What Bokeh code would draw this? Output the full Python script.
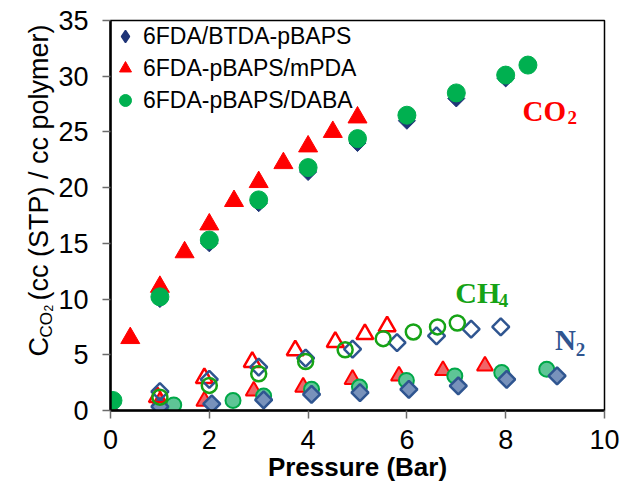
import math
from bokeh.plotting import figure
from bokeh.layouts import row
from bokeh.models import Range1d, Label, Legend, LegendItem, FixedTicker
from bokeh.core.properties import value
from bokeh.embed import file_html
from bokeh.resources import INLINE

# ---------------- data ----------------
x_ticks = [0, 2, 4, 6, 8, 10]
y_ticks = [0, 5, 10, 15, 20, 25, 30, 35]

series_names = ["6FDA/BTDA-pBAPS", "6FDA-pBAPS/mPDA", "6FDA-pBAPS/DABA"]

# CO2 (filled markers)
btda_co2_p = [0.0, 1.0, 2.0, 3.0, 4.0, 5.0, 6.0, 7.0, 8.0]
btda_co2_c = [0.0, 10.0, 15.0, 18.6, 21.4, 24.0, 26.0, 28.0, 29.8]
mpda_co2_p = [0.0, 0.4, 1.0, 1.5, 2.0, 2.5, 3.0, 3.5, 4.0, 4.5, 5.0]
mpda_co2_c = [0.0, 6.5, 11.1, 14.2, 16.7, 18.8, 20.5, 22.2, 23.7, 25.0, 26.3]
daba_co2_p = [0.05, 1.0, 2.0, 3.0, 4.0, 5.0, 6.0, 7.0, 8.0, 8.45]
daba_co2_c = [0.9, 10.2, 15.3, 18.9, 21.8, 24.4, 26.5, 28.5, 30.1, 31.0]

# CH4 (open markers)
btda_ch4_p = [1.0, 2.0, 3.0, 3.95, 4.9, 5.8, 6.6, 7.3, 7.9]
btda_ch4_c = [1.7, 2.8, 3.9, 4.7, 5.5, 6.1, 6.7, 7.3, 7.5]
mpda_ch4_p = [0.95, 1.9, 2.87, 3.74, 4.55, 5.15, 5.6]
mpda_ch4_c = [1.2, 2.9, 4.35, 5.4, 6.15, 6.85, 7.55]
daba_ch4_p = [1.0, 2.0, 3.0, 3.95, 4.75, 5.52, 6.13, 6.62, 7.02]
daba_ch4_c = [1.2, 2.25, 3.3, 4.4, 5.45, 6.45, 7.05, 7.5, 7.85]

# N2 (shaded markers)
btda_n2_p = [1.0, 2.05, 3.1, 4.07, 5.05, 6.04, 7.04, 8.02, 9.04]
btda_n2_c = [0.35, 0.6, 0.95, 1.45, 1.6, 1.9, 2.2, 2.8, 3.1]
mpda_n2_p = [1.0, 1.9, 2.9, 3.9, 4.9, 5.84, 6.73, 7.58]
mpda_n2_c = [0.8, 0.85, 1.75, 2.1, 2.8, 3.1, 3.6, 4.0]
daba_n2_p = [1.28, 2.48, 3.1, 4.07, 5.04, 5.99, 6.97, 7.92, 8.83]
daba_n2_c = [0.5, 0.9, 1.3, 1.9, 2.1, 2.7, 3.1, 3.4, 3.7]

# ---------------- styles ----------------
NAVY = "#1f3477"
STEEL = "#2f5590"
RED = "#ff0000"
GREEN = "#00b050"
GREEN_OPEN = "#16a316"
SANS = "Liberation Sans"
SERIF = "Liberation Serif"

W, H = 636, 495
LAB_W = 55
TOP, BOTTOM = 20, 85

p = figure(width=W - LAB_W, height=H, x_range=Range1d(0, 10), y_range=Range1d(0, 35),
           output_backend="svg", toolbar_location=None,
           min_border_left=110 - LAB_W, min_border_right=32, min_border_top=TOP,
           min_border_bottom=BOTTOM)
p.background_fill_color = "white"
p.border_fill_color = "white"
p.grid.visible = False
p.outline_line_color = "black"
p.outline_line_width = 1.5
p.outline_line_alpha = 1.0

for ax in (p.xaxis[0], p.yaxis[0]):
    ax.axis_line_color = "black"
    ax.axis_line_width = 2.5
    ax.major_tick_in = 0
    ax.major_tick_out = 8
    ax.major_tick_line_color = "#6b6b6b"
    ax.major_tick_line_width = 1.5
    ax.minor_tick_line_color = None
    ax.major_label_text_font = SANS
    ax.major_label_text_font_size = "27px"
    ax.major_label_text_color = "black"

p.xaxis.ticker = FixedTicker(ticks=x_ticks)
p.yaxis.ticker = FixedTicker(ticks=y_ticks)
p.xaxis.major_label_standoff = 11
p.yaxis.major_label_standoff = 14
p.xaxis.axis_label = "Pressure (Bar)"
p.xaxis.axis_label_text_font = SANS
p.xaxis.axis_label_text_font_style = "bold"
p.xaxis.axis_label_text_font_size = "26px"
p.xaxis.axis_label_text_color = "black"
p.xaxis.axis_label_standoff = 0

# N2 (shaded) markers
p.scatter(mpda_n2_p, mpda_n2_c, marker="triangle", size=16, fill_color="#f06468",
          line_color=RED, line_width=2)
p.scatter(daba_n2_p, daba_n2_c, marker="circle", size=15, fill_color="#5ec596",
          line_color="#00a848", line_width=2)
p.scatter(btda_n2_p, btda_n2_c, marker="square", angle=math.pi / 4, size=12,
          fill_color="#7892bb", line_color=STEEL, line_width=2.5)

# CH4 (open) markers
p.scatter(mpda_ch4_p, mpda_ch4_c, marker="triangle", size=17, fill_color=None,
          line_color=RED, line_width=2.5)
p.scatter(btda_ch4_p, btda_ch4_c, marker="square", angle=math.pi / 4, size=12,
          fill_color=None, line_color=STEEL, line_width=2.5)
p.scatter(daba_ch4_p, daba_ch4_c, marker="circle", size=15, fill_color=None,
          line_color=GREEN_OPEN, line_width=2.5)

# CO2 (filled) markers
r_btda = p.scatter(btda_co2_p, btda_co2_c, marker="square", angle=math.pi / 4, size=12,
                   fill_color=NAVY, line_color=NAVY)
r_mpda = p.scatter(mpda_co2_p, mpda_co2_c, marker="triangle", size=19,
                   fill_color=RED, line_color=RED)
r_daba = p.scatter(daba_co2_p, daba_co2_c, marker="circle", size=18,
                   fill_color=GREEN, line_color=GREEN)
# legend key for the diamond series (legend keys are drawn unrotated, so use the
# diamond marker at zero size on the plot; the legend sizes its key itself)
r_btda_key = p.scatter(btda_co2_p, btda_co2_c, marker="diamond", size=0,
                       fill_color=NAVY, line_color=NAVY, line_width=1.5)

legend = Legend(items=[LegendItem(label=series_names[0], renderers=[r_btda_key]),
                       LegendItem(label=series_names[1], renderers=[r_mpda]),
                       LegendItem(label=series_names[2], renderers=[r_daba])],
                location="top_left")
legend.border_line_color = None
legend.background_fill_alpha = 0
legend.margin = 0
legend.padding = 8
legend.spacing = 0
legend.glyph_width = 30
legend.glyph_height = 32
legend.label_standoff = 3
legend.label_text_font = SANS
legend.label_text_font_size = "23px"
legend.label_text_color = "black"
p.add_layout(legend)

# gas labels
def lab(x, y, text, color, size):
    p.add_layout(Label(x=x, y=y, text=text, text_color=color, text_font=SERIF,
                       text_font_style="bold", text_font_size=size,
                       text_align="left", text_baseline="alphabetic"))

lab(8.34, 26.9, "CO", RED, "29px")
lab(9.25, 26.3, "2", RED, "19px")
lab(6.98, 10.6, "CH", GREEN_OPEN, "30px")
lab(7.86, 9.87, "4", GREEN_OPEN, "19px")
lab(9.0, 6.3, "N", STEEL, "29px")
lab(9.42, 5.45, "2", STEEL, "19px")

# ---------------- y-axis title panel (rotated text with subscripts) ----------------
# This panel's frame is kept level with the chart's frame; its y range is in
# pixels counted from the top of the page (inverted mapping via y = H - py).
pl = figure(width=LAB_W, height=H, x_range=Range1d(0, LAB_W),
            y_range=Range1d(BOTTOM, H - TOP),
            output_backend="svg", toolbar_location=None, x_axis_type=None, y_axis_type=None,
            min_border_left=0, min_border_right=0, min_border_top=TOP,
            min_border_bottom=BOTTOM)
pl.outline_line_color = None
pl.grid.visible = False
pl.background_fill_color = "white"
pl.border_fill_color = "white"

# pieces of the title: (centre-line x, start y from the top, text, font size)
ytitle_x = [38.5, 46, 48, 38.5]
ytitle_top = [356, 337, 311, 300]
ytitle_text = ["C", "CO", "2", "(cc (STP) / cc polymer)"]
ytitle_size = ["27px", "17px", "12px", "27px"]
pl.text(x=ytitle_x, y=[H - v for v in ytitle_top], text=ytitle_text,
        text_font_size=ytitle_size, angle=math.pi / 2, text_color="black",
        text_font=value(SANS), text_align="left", text_baseline="middle")

layout = row(pl, p, spacing=0)
open("out.html", "w").write(file_html(layout, INLINE))
